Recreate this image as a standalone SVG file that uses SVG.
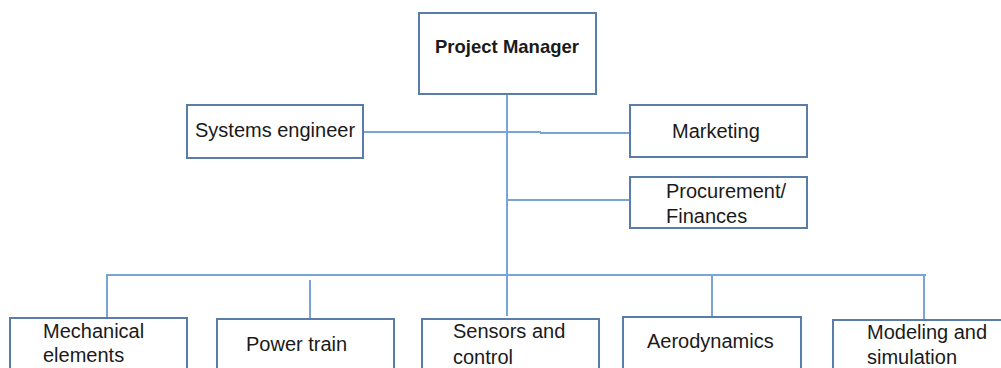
<svg xmlns="http://www.w3.org/2000/svg" width="1001" height="368" viewBox="0 0 1001 368">
<style>
.box{fill:#fff;stroke:#5a7ca8;stroke-width:2}
.t{font-family:"Liberation Sans",Arial,sans-serif;font-size:20px;fill:#1a1a1a}
.b{font-weight:bold;font-size:18.5px}
.c{stroke:#77a5d8;stroke-width:2;fill:none}
</style>
<rect width="1001" height="368" fill="#fff"/>
<g id="connectors">
<line class="c" x1="507" y1="94" x2="507" y2="316"/>
<line class="c" x1="363" y1="132" x2="541" y2="132"/>
<line class="c" x1="540" y1="133" x2="630" y2="133"/>
<line class="c" x1="507" y1="200" x2="630" y2="200"/>
<line class="c" x1="106" y1="275" x2="926" y2="275"/>
<line class="c" x1="107" y1="274" x2="107" y2="317"/>
<line class="c" x1="310" y1="280" x2="310" y2="319"/>
<line class="c" x1="712" y1="275" x2="712" y2="317"/>
<line class="c" x1="924" y1="275" x2="924" y2="319"/>
</g>
<g id="project-manager">
<rect class="box" x="419" y="13" width="177" height="81"/>
<text class="t b" x="507" y="53" text-anchor="middle">Project Manager</text>
</g>
<g id="systems-engineer">
<rect class="box" x="187" y="105" width="176" height="53"/>
<text class="t" x="195" y="137">Systems engineer</text>
</g>
<g id="marketing">
<rect class="box" x="630" y="105" width="177" height="52"/>
<text class="t" x="672" y="138">Marketing</text>
</g>
<g id="procurement">
<rect class="box" x="630" y="177" width="177" height="51"/>
<text class="t" x="666" y="198">Procurement/</text>
<text class="t" x="666" y="223">Finances</text>
</g>
<g id="mechanical">
<rect class="box" x="10" y="318" width="177" height="70"/>
<text class="t" x="43" y="338">Mechanical</text>
<text class="t" x="43" y="362">elements</text>
</g>
<g id="power-train">
<rect class="box" x="217" y="319" width="177" height="70"/>
<text class="t" x="246" y="351">Power train</text>
</g>
<g id="sensors">
<rect class="box" x="422" y="319" width="177" height="70"/>
<text class="t" x="453" y="338">Sensors and</text>
<text class="t" x="453" y="364">control</text>
</g>
<g id="aerodynamics">
<rect class="box" x="623" y="317" width="178" height="70"/>
<text class="t" x="647" y="348">Aerodynamics</text>
</g>
<g id="modeling">
<rect class="box" x="833" y="320" width="180" height="70"/>
<text class="t" x="867" y="339">Modeling and</text>
<text class="t" x="867" y="364">simulation</text>
</g>
</svg>
